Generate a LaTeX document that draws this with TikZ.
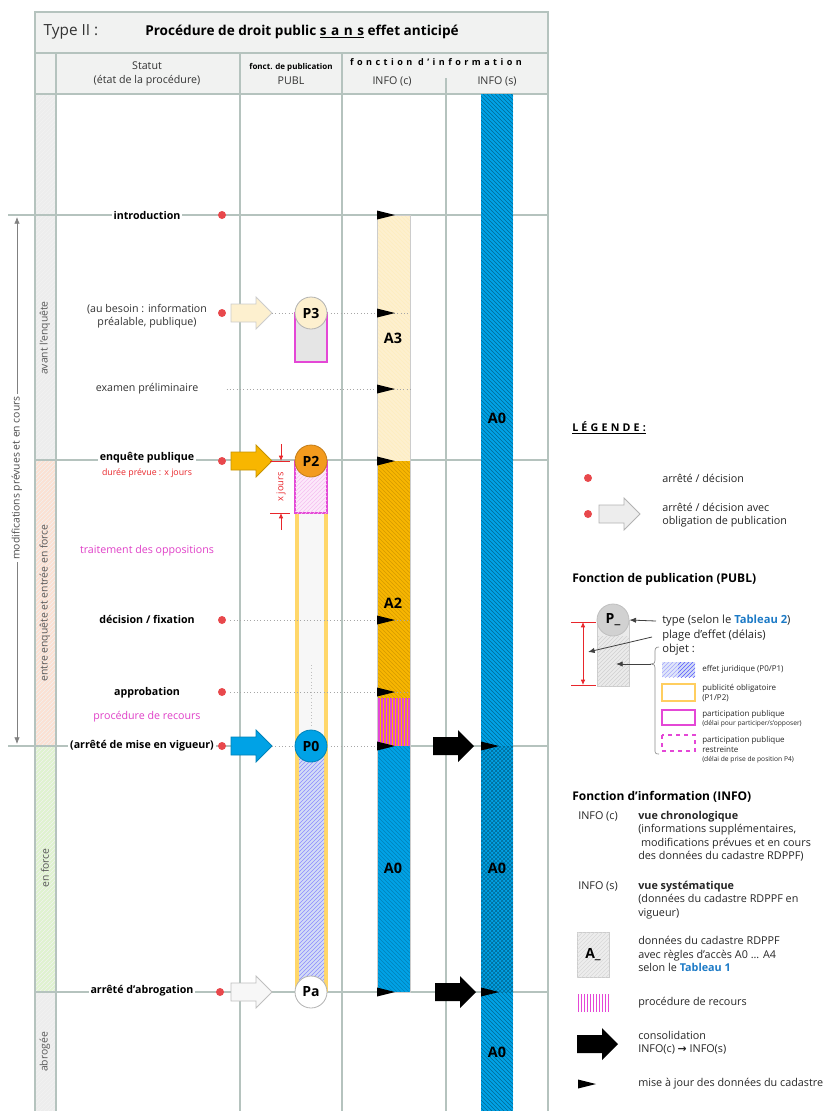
\documentclass[tikz,border=0pt]{standalone}
\usepackage{fontspec}
\setmainfont{Open Sans}
\newfontfamily\spacedfont[LetterSpace=30]{Open Sans}
\newfontfamily\widefont[LetterSpace=38]{Open Sans}
\newfontfamily\arrowfont{DejaVu Sans}
\usetikzlibrary{patterns,arrows.meta}

\definecolor{gridcol}{HTML}{B5C3BE}
\definecolor{headcol}{HTML}{F1F2F1}
\definecolor{reddot}{HTML}{E8484C}
\definecolor{dimred}{HTML}{E8262B}
\definecolor{magcol}{HTML}{E447D6}
\definecolor{magtext}{HTML}{E040C8}
\definecolor{a3col}{HTML}{FDF0CF}
\definecolor{a2col}{HTML}{F8B600}
\definecolor{p2col}{HTML}{F39B1E}
\definecolor{bluecol}{HTML}{00A2E6}
\definecolor{pubyel}{HTML}{FFD76A}
\definecolor{effblue}{HTML}{D3DCF6}
\definecolor{tabblue}{HTML}{1C7AC6}
\definecolor{bandgrey}{HTML}{EDEDED}
\definecolor{bandrose}{HTML}{FBE1D3}
\definecolor{bandgreen}{HTML}{DFF2CF}

\tikzset{
  gridline/.style={draw=gridcol, line width=0.9pt},
  dotline/.style={draw=black!35, dotted, line width=0.5pt},
  rdot/.style={circle, fill=reddot, inner sep=0pt, minimum size=6pt},
  hd/.style={font=\fontsize{8}{10}\selectfont, text=black!80, align=center},
  stat/.style={font=\fontsize{8}{10}\selectfont, text=black!80, align=center, fill=white, inner sep=1.5pt},
  statb/.style={stat, font=\bfseries\fontsize{8}{10}\selectfont, text=black},
  note/.style={font=\fontsize{8}{10}\selectfont, text=magtext, fill=white, inner sep=1pt},
  band/.style={rotate=90, font=\fontsize{7.8}{9}\selectfont, text=black!65},
  pcirc/.style={circle, draw=black!25, line width=0.6pt, minimum size=24pt, inner sep=0pt,
    font=\bfseries\fontsize{10.5}{12}\selectfont},
  alab/.style={font=\bfseries\fontsize{10.8}{12}\selectfont},
  leg/.style={font=\fontsize{8.1}{10}\selectfont, anchor=west, align=left, inner sep=0pt, text=black!85},
  legs/.style={font=\fontsize{6}{7.5}\selectfont, anchor=west, align=left, inner sep=0pt, text=black!85},
  legt/.style={font=\bfseries\fontsize{9}{10}\selectfont, anchor=west, inner sep=0pt},
  dimline/.style={draw=dimred, line width=0.6pt},
  pointer/.style={draw=black!75, line width=0.6pt, -{Latex[length=5pt,width=4pt]}},
  pics/blockarr/.style={code={
    \path[pic actions] (0,-9) -- (25,-9) -- (25,-16) -- (41,0) -- (25,16) -- (25,9) -- (0,9) -- cycle;}},
}

\begin{document}
\begin{tikzpicture}[x=0.75pt, y=-0.75pt]
\useasboundingbox (0,0) rectangle (825,1111);

% fonds
\fill[headcol] (35,12) rectangle (548,94);
\fill[bandgrey] (35,94) rectangle (56,460);
\fill[bandrose] (35,460) rectangle (56,746);
\fill[bandgreen] (35,746) rectangle (56,992);
\fill[bandgrey] (35,992) rectangle (56,1111);
\fill[pattern=north east lines, pattern color=black!5] (35,94) rectangle (56,1111);

% cadre, colonnes
\draw[gridline] (35,1111) -- (35,12) -- (548,12) -- (548,1111);
\draw[gridline] (35,53) -- (548,53);
\draw[gridline] (35,94) -- (548,94);
\foreach \x in {56,240,342}
  \draw[gridline] (\x,53) -- (\x,1111);
\draw[gridline] (446,78) -- (446,1111);

% lignes d'etat
\draw[gridline] (8,215) -- (548,215);
\draw[gridline] (35,460) -- (548,460);
\draw[gridline] (8,746) -- (232,746);
\draw[gridline] (410,746) -- (548,746);
\draw[gridline] (35,992) -- (548,992);

% en-tete
\node[font=\fontsize{11.5}{13}\selectfont, anchor=west, text=black!80] (typ) at (39,32) {Type II :};
\node[font=\bfseries\fontsize{10.2}{12}\selectfont] (titre) at (302,32)
  {Procédure de droit public \underline{s\,\,a\,\,n\,\,s} effet anticipé};
\node[hd] (statut) at (147,74) {Statut\\(état de la procédure)};
\node[font=\bfseries\fontsize{6}{8}\selectfont] (fpub) at (291,67) {fonct. de publication};
\node[hd] (publ) at (291,81) {PUBL};
\node[font=\widefont\bfseries\fontsize{6.8}{8}\selectfont] (finfo) at (436,62) {fonction d’information};
\node[hd] (infoc) at (392,81) {INFO (c)};
\node[hd] (infos) at (497,81) {INFO (s)};

% bandes de statut
\node[band] (bavant) at (45,338) {avant l’enquête};
\node[band] (bentre) at (45,603) {entre enquête et entrée en force};
\node[band] (bforce) at (45,868) {en force};
\node[band] (babro) at (45,1052) {abrogée};
\draw[black!50, line width=0.5pt, {Latex[length=5pt,width=4pt]}-{Latex[length=5pt,width=4pt]}] (17,217) -- (17,744);
\node[band, fill=white, text=black!70, inner sep=2pt] (modif) at (17,478) {modifications prévues et en cours};

% INFO (s)
\fill[bluecol] (481,94) rectangle (513,1111);
\fill[pattern=north west lines, pattern color=bluecol!65!black] (481,94) rectangle (513,746);
\fill[pattern=crosshatch, pattern color=bluecol!65!black] (481,746) rectangle (513,992);
\fill[pattern=north west lines, pattern color=bluecol!65!black] (481,992) rectangle (513,1111);

% INFO (c)
\fill[a3col] (377,215) rectangle (410,461);
\fill[pattern=north west lines, pattern color=a2col!25] (377,215) rectangle (410,461);
\fill[a2col] (377,461) rectangle (410,746);
\fill[pattern=north west lines, pattern color=a2col!85!black] (377,461) rectangle (410,698);
\foreach \x in {379,382,...,409}
  \draw[magcol, line width=1.1pt] (\x,698) -- (\x,746);
\fill[bluecol] (377,746) rectangle (410,992);
\fill[pattern=north west lines, pattern color=bluecol!80!black] (377,746) rectangle (410,992);
\draw[black!20, line width=0.5pt] (377,215) rectangle (410,992);

% PUBL
\fill[black!3] (295,461) rectangle (328,746);
\fill[pubyel] (295,461) rectangle (299,992);
\fill[pubyel] (324,461) rectangle (328,992);
\fill[effblue] (299,746) rectangle (324,992);
\fill[pattern=north east lines, pattern color=blue!45] (299,746) rectangle (324,992);
\draw[black!25, dotted, line width=0.5pt] (311,665) -- (311,728);
\filldraw[draw=magcol, fill=magcol!12, line width=1.1pt] (295,461) rectangle (327,513);
\fill[pattern=north east lines, pattern color=magcol!35] (295,461) rectangle (327,513);
\filldraw[draw=magcol, fill=black!10, line width=1.1pt] (295,313) rectangle (327,362);

% statuts
\node[statb] (intro) at (147,215) {introduction};
\node[stat] (besoin) at (147,316) {(au besoin : information\\préalable, publique)};
\node[stat] (exam) at (147,389) {examen préliminaire};
\node[statb] (enq) at (147,458) {enquête publique};
\node[font=\fontsize{6.6}{8}\selectfont, text=dimred] (duree) at (147,473) {durée prévue : x jours};
\node[note] (oppo) at (147,551) {traitement des oppositions};
\node[statb] (fix) at (147,619) {décision / fixation};
\node[statb] (appro) at (147,693) {approbation};
\node[note] (recours) at (147,717) {procédure de recours};
\node[statb] (vig) at (142,746) {(arrêté de mise en vigueur)};
\node[statb] (abro) at (142,991) {arrêté d’abrogation};

\node[rdot] (dintro) at (222,215) {};
\node[rdot] (dbesoin) at (222,313) {};
\node[rdot] (denq) at (222,461) {};
\node[rdot] (dfix) at (222,620) {};
\node[rdot] (dappro) at (222,692) {};
\node[rdot] (dvig) at (222,746) {};
\node[rdot] (dabro) at (220,992) {};

% fleches de publication
\pic[fill=a3col, draw=black!20, line width=0.6pt] at (231,313) {blockarr};
\pic[fill=a2col, draw=a2col!80!black, line width=0.6pt] at (231,461) {blockarr};
\pic[fill=bluecol, draw=bluecol!80!black, line width=0.6pt] at (231,746) {blockarr};
\pic[fill=black!3, draw=black!25, line width=0.6pt] at (231,992) {blockarr};

\node[pcirc, fill=a3col, draw=black!30] (p3) at (311,313) {P3};
\node[pcirc, fill=p2col, draw=p2col!80!black] (p2) at (311,461) {P2};
\node[pcirc, fill=bluecol, draw=bluecol!80!black] (p0) at (311,746) {P0};
\node[pcirc, fill=white, draw=black!30] (pa) at (311,992) {Pa};

% lignes pointillees vers INFO (c)
\coordinate (c3) at (410,313);
\coordinate (cexam) at (410,389);
\coordinate (cfix) at (410,620);
\coordinate (cappro) at (410,692);
\coordinate (cvig) at (377,746);
\draw[dotline] (272,313) -- (p3.west);
\draw[dotline] (p3.east) -- (c3);
\draw[dotline] (exam.east) ++(26,0) -- (cexam);
\draw[dotline] (dfix.east) ++(4,0) -- (cfix);
\draw[dotline] (dappro.east) ++(4,0) -- (cappro);
\draw[dotline] (272,746) -- (p0.west);
\draw[dotline] (p0.east) -- (cvig);

% x jours
\draw[dimline] (270,461) -- (290,461);
\draw[dimline] (270,513) -- (290,513);
\draw[dimline, -{Latex[length=4pt,width=3.5pt]}] (281,444) -- (281,461);
\draw[dimline, -{Latex[length=4pt,width=3.5pt]}] (281,530) -- (281,513);
\node[rotate=90, font=\fontsize{7}{8}\selectfont, text=dimred] (xj) at (281,487) {x jours};

% mises a jour
\foreach \y in {215,313,389,461,620,692,746,992}
  \fill (377,\y-4.5) -- (395,\y) -- (377,\y+4.5) -- cycle;
\foreach \y in {746,992}
  \fill (481,\y-4.5) -- (499,\y) -- (481,\y+4.5) -- cycle;

% consolidation
\pic[fill=black] at (433,746) {blockarr};
\pic[fill=black] at (435,992) {blockarr};

% regles d'acces
\node[alab] (a3) at (393,338) {A3};
\node[alab] (a2) at (393,603) {A2};
\node[alab] (a0c) at (393,868) {A0};
\node[alab] (a0s1) at (497,418) {A0};
\node[alab] (a0s2) at (497,868) {A0};
\node[alab] (a0s3) at (497,1052) {A0};

% legende
\node[font=\spacedfont\bfseries\fontsize{8}{10}\selectfont, anchor=west, inner sep=0pt] (legende) at (572,428) {\underline{LÉGENDE:}};
\node[rdot] (ldot1) at (588,478) {};
\node[leg] (ltxt1) at (662,478) {arrêté / décision};
\node[rdot] (ldot2) at (588,514) {};
\pic[fill=black!7, draw=black!30, line width=0.6pt] at (599,514) {blockarr};
\node[leg] (ltxt2) at (662,515) {arrêté / décision avec\\obligation de publication};

\node[legt] (lpubl) at (572,579) {Fonction de publication (PUBL)};
\filldraw[fill=black!8, draw=black!20, line width=0.5pt] (597,620) rectangle (629,686);
\fill[pattern=north east lines, pattern color=black!18] (597,636) rectangle (629,686);
\node[pcirc, fill=black!18, draw=black!25] (pleg) at (613,620) {P\_};
\draw[dimline] (571,622) -- (596,622);
\draw[dimline] (571,685) -- (596,685);
\draw[dimline, {Latex[length=4pt,width=3.5pt]}-{Latex[length=4pt,width=3.5pt]}] (583,622) -- (583,685);
\node[leg, font=\fontsize{8.4}{10}\selectfont] (ltype) at (662,621) {type (selon le \textbf{\color{tabblue}Tableau 2})};
\node[leg, font=\fontsize{8.4}{10}\selectfont] (lplage) at (662,636) {plage d’effet (délais)};
\node[leg, font=\fontsize{8.4}{10}\selectfont] (lobjet) at (662,650) {objet :};
\draw[pointer] (ltype.west) ++(-6,0) -- (pleg.east);
\draw[pointer] (lplage.west) ++(-10,1) -- (588,652);
\draw[black!45, line width=0.5pt] (659,647) .. controls (655,647) and (655,649) .. (655,653)
  -- (655,660) .. controls (655,663) .. (651,664) .. controls (655,665) .. (655,668)
  -- (655,749) .. controls (655,753) and (655,754) .. (659,754);
\coordinate (lobj) at (616,664);
\draw[pointer] (651,664) -- (lobj);

\fill[effblue!70] (662,662) rectangle (678,677);
\fill[pattern=north east lines, pattern color=blue!35] (662,662) rectangle (678,677);
\fill[effblue] (678,662) rectangle (695,677);
\fill[pattern=north east lines, pattern color=blue!65] (678,662) rectangle (695,677);
\node[legs] (leff) at (702,669) {effet juridique (P0/P1)};
\draw[pubyel!90!orange, line width=1.2pt] (662,684) rectangle (695,701);
\node[legs] (lpub) at (702,693) {publicité obligatoire\\(P1/P2)};
\draw[magcol, line width=1.2pt] (662,710) rectangle (695,725);
\node[legs] (lpart) at (702,714) {participation publique};
\node[font=\fontsize{5}{6}\selectfont, anchor=west, inner sep=0pt, text=black!85] (lpart2) at (702,724) {(délai pour participer/s’opposer)};
\draw[magcol, line width=1.2pt, dashed] (662,735) rectangle (695,751);
\node[legs] (lrest) at (702,744) {participation publique\\restreinte};
\node[font=\fontsize{5}{6}\selectfont, anchor=west, inner sep=0pt, text=black!85] (lrest2) at (702,760) {(délai de prise de position P4)};

\node[legt] (linfo) at (572,797) {Fonction d’information (INFO)};
\node[leg] (linfoc) at (578,816) {INFO (c)};
\node[leg, anchor=north west] (lchrono) at (638,811) {\textbf{vue chronologique}\\(informations supplémentaires,\\\ modifications prévues et en cours\\des données du cadastre RDPPF)};
\node[leg] (linfos) at (578,886) {INFO (s)};
\node[leg, anchor=north west] (lsyst) at (638,881) {\textbf{vue systématique}\\(données du cadastre RDPPF en\\vigueur)};
\filldraw[fill=black!7, draw=black!20, line width=0.5pt] (577,932) rectangle (609,977);
\fill[pattern=north east lines, pattern color=black!15] (577,932) rectangle (609,977);
\node[font=\bfseries\fontsize{10.5}{12}\selectfont] (lA) at (593,955) {A\_};
\node[leg] (ldonnees) at (638,954) {données du cadastre RDPPF\\avec règles d’accès A0 ... A4\\selon le \textbf{\color{tabblue}Tableau 1}};
\foreach \x in {578.5,581.5,...,609}
  \draw[magcol, line width=1.1pt] (\x,994) -- (\x,1012);
\node[leg] (lrecours) at (638,1003) {procédure de recours};
\pic[fill=black] at (577,1044) {blockarr};
\node[leg] (lconso) at (638,1043) {consolidation\\INFO(c) {\arrowfont\bfseries →} INFO(s)};
\fill (578,1079.5) -- (596,1084) -- (578,1088.5) -- cycle;
\node[leg] (lmaj) at (638,1084) {mise à jour des données du cadastre};
\end{tikzpicture}
\end{document}
